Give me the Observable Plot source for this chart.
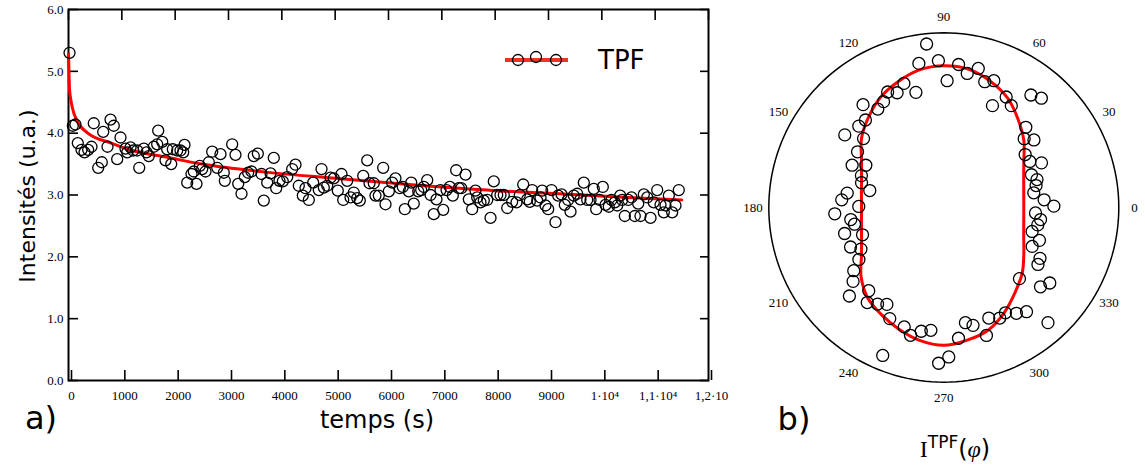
<!DOCTYPE html>
<html><head><meta charset="utf-8">
<script src="https://cdn.jsdelivr.net/npm/d3@7"></script>
<script src="https://cdn.jsdelivr.net/npm/@observablehq/plot@0.6"></script>
<style>
body{margin:0;background:#fff;width:1145px;height:471px;overflow:hidden;position:relative;font-family:"Comic Sans MS","DejaVu Sans",sans-serif;}
#a{position:absolute;left:0;top:0;}
#b{position:absolute;left:740px;top:0;}
.lbl{position:absolute;color:#000;white-space:nowrap;line-height:1;transform:translate(-50%,-50%);}
#leg{position:absolute;left:500px;top:45px;}
</style></head><body>
<div id="a"></div><div id="b"></div>
<div class="lbl" style="left:28px;top:196px;font-size:22px;transform:translate(-50%,-50%) rotate(-90deg);">Intensités (u.a.)</div>
<div class="lbl" style="left:377px;top:420px;font-size:24px;">temps (s)</div>
<div class="lbl" style="left:41px;top:418px;font-size:32px;">a)</div>
<div class="lbl" style="left:794px;top:419px;font-size:32px;">b)</div>
<div class="lbl" style="left:955px;top:447px;font-size:24px;"><span style="font-family:'Liberation Serif',serif;">I</span><sup style="font-size:17px;">TPF</sup>(<i style="font-family:'Liberation Serif',serif;">φ</i>)</div>
<div id="leg"><svg width="160" height="32" style="overflow:visible">
<line x1="5" y1="15" x2="68" y2="15" stroke="#ee3322" stroke-width="4"/>
<circle cx="18" cy="15" r="5.5" fill="none" stroke="#000" stroke-width="1.3"/>
<circle cx="36" cy="12" r="5.5" fill="none" stroke="#000" stroke-width="1.3"/>
<circle cx="56" cy="15" r="5.5" fill="none" stroke="#000" stroke-width="1.3"/>
<text x="98" y="24" font-size="26" font-family="'Comic Sans MS','DejaVu Sans',sans-serif">TPF</text>
</svg></div>
<script>
// ---- panel a) : intensity vs time ----
const times = [19,81,131,174,244,300,369,431,474,557,624,651,731,788,849,913,975,1069,1101,1163,1213,1288,1326,1412,1463,1506,1599,1663,1682,1757,1819,1851,1926,1956,2038,2100,2151,2175,2226,2306,2349,2400,2462,2507,2569,2631,2694,2788,2850,2912,2931,
3069,3131,3182,3244,3306,3369,3431,3474,3550,3619,3662,3726,3788,3849,3894,3956,4018,4101,4194,4256,4318,4393,4444,4506,4588,4693,4744,4787,4851,4913,4974,5049,5119,5151,5226,5288,5349,5413,5462,5526,5601,5644,5724,5756,
5818,5900,5944,6006,6069,6131,6212,6268,6306,6381,6426,6474,6557,6613,6662,6726,6788,6849,6900,6975,7026,7088,7149,7206,7269,7318,7363,7444,7506,7569,7631,7663,7725,7787,7851,7913,7974,8038,8100,8162,8226,8319,8400,8462,8526,8601,8649,8694,
8788,8850,8881,8944,8994,9056,9131,9182,9244,9306,9369,9413,9474,9538,9600,9662,9726,9788,9849,9894,9956,10018,10069,10131,10181,10243,10288,10344,10382,10431,10494,10556,10618,10682,10725,10787,10851,10913,10974,11038,11100,11162,11194,11256,11319,11381,11443];
const intensities = [5.30,4.12,4.14,3.84,3.73,3.69,3.73,3.78,4.16,3.44,3.53,4.02,3.78,4.22,4.12,3.58,3.93,3.75,3.69,3.77,3.72,3.72,3.44,3.75,3.69,3.63,3.78,3.82,4.04,3.86,3.56,3.74,3.50,3.74,3.72,3.72,3.69,3.81,3.20,3.34,3.38,3.18,3.47,3.42,3.38,3.53,3.70,3.44,3.66,3.36,3.23,
3.82,3.65,3.18,3.02,3.29,3.36,3.38,3.63,3.67,3.34,2.91,3.20,3.35,3.60,3.11,3.23,3.22,3.29,3.42,3.49,3.15,2.99,3.11,2.92,3.20,3.08,3.42,3.12,3.15,3.28,3.27,3.07,3.34,2.92,3.23,2.96,3.04,2.95,2.91,3.31,3.56,3.19,3.19,2.99,
2.99,3.44,2.85,3.06,3.20,3.27,3.11,3.13,2.77,3.06,3.20,2.86,3.06,3.08,3.13,3.24,3.00,2.69,2.93,3.08,2.76,3.08,3.13,2.99,3.40,3.11,3.11,3.33,2.93,2.77,3.07,2.96,2.88,2.91,2.92,2.63,3.22,3.00,3.00,3.00,2.79,2.89,2.88,3.00,3.17,2.93,2.89,3.08,
2.91,2.96,3.07,2.83,2.77,3.08,2.56,2.99,3.01,2.84,2.92,2.73,2.99,3.02,2.93,3.20,2.92,2.92,3.10,2.77,2.92,3.13,2.84,2.81,2.92,2.88,2.83,2.99,2.92,2.66,2.92,2.96,2.66,2.86,2.66,3.01,2.96,2.63,2.88,3.08,2.84,2.72,2.83,2.99,2.72,2.83,3.08];
const fitTimes = [0,10,20,40,70,160,350,800,1200,1850,2500,3700,5000,6500,8000,9200,10500,11500];
const fitValues = [5.28,4.95,4.70,4.56,4.42,4.20,4.01,3.84,3.72,3.61,3.50,3.37,3.27,3.16,3.07,3.02,2.96,2.92];
const xTicks = [0,1000,2000,3000,4000,5000,6000,7000,8000,9000,10000,11000,12000];
const xTickLabels = ["0","1000","2000","3000","4000","5000","6000","7000","8000","9000","1·10⁴","1,1·10⁴","1,2·10"];
const yTicks = [0,1,2,3,4,5,6];

// ---- panel b) : polar I_TPF(phi) ----
const phiDeg = [96.0,99.8,92.1,88.5,103.6,107.8,112.1,115.9,119.6,123.8,128.1,131.8,136.2,143.7,139.3,147.1,155.2,151.5,158.8,163.2,167.1,171.5,175.7,179.3,183.3,187.4,190.6,194.7,198.6,203.0,206.7,211.5,215.1,219.2,223.2,228.0,231.2,235.6,239.6,244.1,251.7,255.4,259.7,264.0,247.6,268.1,
271.9,276.4,280.6,283.9,288.4,292.1,296.8,300.3,304.4,308.4,312.1,316.7,320.6,324.5,332.1,328.8,336.2,341.0,344.8,349.5,352.9,356.6,0.7,4.4,9.3,13.4,16.7,20.5,24.6,28.2,33.1,36.9,40.6,44.4,48.3,52.3,56.5,60.6,64.5,68.5,72.0,76.1,80.1,84.1];
const iTPF = [0.941,0.837,0.841,0.726,0.678,0.746,0.709,0.735,0.697,0.678,0.748,0.672,0.673,0.702,0.605,0.587,0.577,0.507,0.505,0.491,0.434,0.558,0.585,0.486,0.624,0.536,0.519,0.586,0.490,0.579,0.530,0.569,0.629,0.669,0.740,0.641,0.698,0.670,0.643,0.707,0.720,0.756,0.720,0.707,0.916,0.892,
0.856,0.753,0.671,0.695,0.772,0.683,0.709,0.698,0.734,0.761,0.888,0.594,0.715,0.744,0.622,0.629,0.552,0.578,0.523,0.546,0.557,0.525,0.629,0.575,0.521,0.542,0.556,0.535,0.614,0.558,0.555,0.644,0.605,0.656,0.838,0.814,0.699,0.726,0.646,0.780,0.757,0.820,0.779,0.823];
const fitPhi = [0,10,20,30,40,50,60,70,80,90,100,110,120,130,140,150,160,170,180,190,200,210,220,230,240,250,260,270,280,290,300,310,320,330,340,350];
const fitI = [0.457,0.464,0.486,0.528,0.597,0.660,0.726,0.771,0.804,0.811,0.800,0.766,0.726,0.671,0.614,0.543,0.500,0.478,0.470,0.478,0.500,0.543,0.617,0.676,0.710,0.743,0.774,0.789,0.771,0.746,0.693,0.634,0.585,0.528,0.486,0.464];
const angleLabels = [0,30,60,90,120,150,180,210,240,270,300,330];
const rMax = 1;

// ---------- build panel a ----------
const pts = times.map((t,i)=>({t, v: intensities[i]}));
const fit = fitTimes.map((t,i)=>({t, v: fitValues[i]}));
const labelOf = new Map(xTicks.map((d,i)=>[d, xTickLabels[i]]));
const serif = "'Liberation Serif','Times New Roman',serif";

const plotA = Plot.plot({
  width: 730, height: 411,
  marginLeft: 68, marginRight: 22, marginTop: 9, marginBottom: 31,
  x: {domain: [0, 12000]},
  y: {domain: [0, 6]},
  style: {background: "transparent", fontFamily: serif, fontSize: "13px", color: "#000"},
  marks: [
    Plot.axisX(xTicks, {anchor: "bottom", tickSize: -10, tickPadding: 20, strokeWidth: 1.6, tickFormat: d => labelOf.get(d), dx: 3, label: null, fontFamily: serif, fontSize: 13}),
    Plot.axisX(xTicks, {anchor: "top", tickSize: -10, strokeWidth: 1.6, tickFormat: () => "", label: null}),
    Plot.axisY(yTicks, {anchor: "left", tickSize: -10, tickPadding: 15, strokeWidth: 1.6, label: null, fontFamily: serif, fontSize: 13}),
    Plot.axisY(yTicks, {anchor: "right", tickSize: -9, strokeWidth: 1.6, tickFormat: () => "", label: null}),
    Plot.frame({stroke: "#000", strokeWidth: 2}),
    Plot.line(fit, {x: "t", y: "v", stroke: "#ff0000", strokeWidth: 3, curve: "monotone-x"}),
    Plot.dot(pts, {x: "t", y: "v", r: 5.5, stroke: "#000", strokeWidth: 1.3, fill: "none"})
  ]
});
document.getElementById("a").appendChild(plotA);

// ---------- build panel b ----------
const rad = d => d * Math.PI / 180;
const polarPts = phiDeg.map((a,i)=>({x: iTPF[i]*Math.cos(rad(a)), y: iTPF[i]*Math.sin(rad(a))}));
const polarFit = fitPhi.map((a,i)=>({x: fitI[i]*Math.cos(rad(a)), y: fitI[i]*Math.sin(rad(a))}));
const outline = d3.range(0, 361, 2).map(a=>({x: rMax*Math.cos(rad(a)), y: rMax*Math.sin(rad(a))}));
const lab = angleLabels.map(a=>({a, x: 1.09*rMax*Math.cos(rad(a)), y: 1.09*rMax*Math.sin(rad(a))}));

const plotB = Plot.plot({
  width: 405, height: 410,
  marginLeft: 28.3, marginRight: 26.7, marginTop: 32.3, marginBottom: 28.3,
  x: {domain: [-rMax, rMax], axis: null},
  y: {domain: [-rMax, rMax], axis: null},
  style: {background: "transparent", fontFamily: serif, fontSize: "13px", color: "#000", overflow: "visible"},
  marks: [
    Plot.line(outline, {x: "x", y: "y", stroke: "#000", strokeWidth: 1.5}),
    Plot.line(polarFit, {x: "x", y: "y", stroke: "#ff0000", strokeWidth: 3, curve: "catmull-rom-closed"}),
    Plot.dot(polarPts, {x: "x", y: "y", r: 6, stroke: "#000", strokeWidth: 1.3, fill: "none"}),
    Plot.text(lab, {x: "x", y: "y", text: d => String(d.a), fontFamily: serif, fontSize: 13, fill: "#000"})
  ]
});
document.getElementById("b").appendChild(plotB);
</script>
</body></html>
